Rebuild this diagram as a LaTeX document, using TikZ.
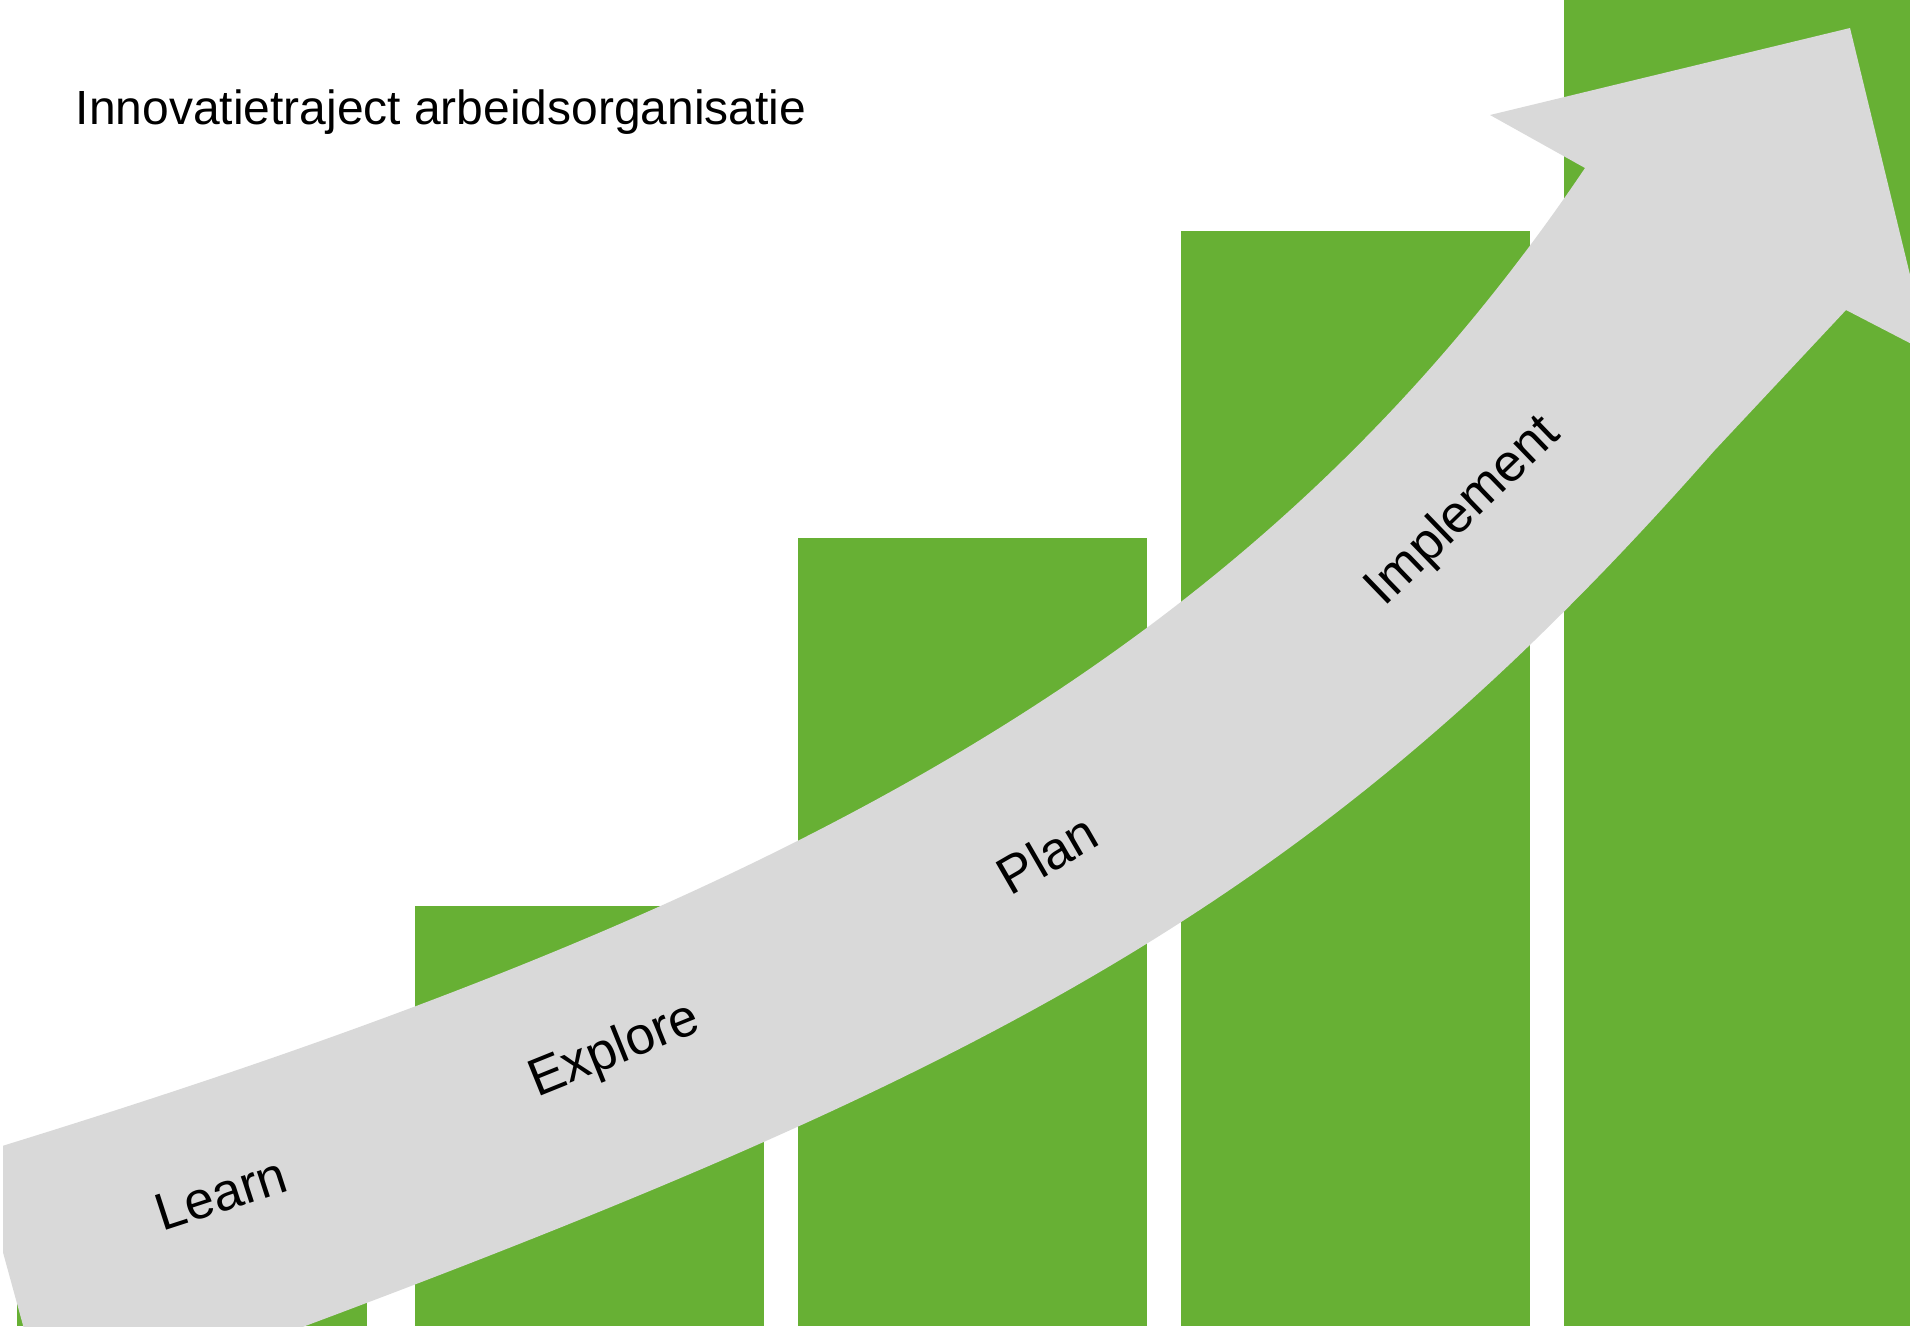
\documentclass[tikz,border=0pt]{standalone}
\usepackage{fontspec}
\setmainfont{Liberation Sans}
\usetikzlibrary{positioning}
\definecolor{stepgreen}{HTML}{67B034}
\definecolor{flowgray}{HTML}{D9D9D9}

\begin{document}
\begin{tikzpicture}[
    x=0.1mm, y=-0.1mm,
    bar/.style={fill=stepgreen},
    flow/.style={fill=flowgray},
    phase/.style={
        inner sep=0pt, text=black,
        font=\fontsize{15pt}{18pt}\selectfont
    },
    heading/.style={
        inner sep=0pt, anchor=base west, text=black,
        font=\fontsize{13.65pt}{16pt}\selectfont
    },
]
\useasboundingbox (0,0) rectangle (1910,1326);

% ── Bars ──
\fill[bar] (17,1200) rectangle (367,1326);
\fill[bar] (415,906) rectangle (764,1326);
\fill[bar] (798,538) rectangle (1147,1326);
\fill[bar] (1181,231) rectangle (1530,1326);
\fill[bar] (1564,0) rectangle (1910,1326);

% ── Growth arrow ──
\begin{scope}
    \clip (3,0) rectangle (1910,1326);
    \fill[flow] (-24,1154) .. controls (768,912) and (1249,666) .. (1585,168)
        -- (1490,115) -- (1850,28) -- (1929,353) -- (1846,310) -- (1714,451)
        .. controls (1285,939) and (942,1097) .. (49,1420) -- cycle;
\end{scope}

% ── Title ──
\node[heading] (title) at (75,124) {Innovatietraject arbeidsorganisatie};

% ── Phases ──
\node[phase, rotate=18] (learn) at (221,1194) {Learn};
\node[phase, rotate=22] (explore) at (615,1051) {Explore};
\node[phase, rotate=30] (plan) at (1047,854) {Plan};
\node[phase, rotate=44] (implement) at (1464,512) {Implement};

\end{tikzpicture}
\end{document}
